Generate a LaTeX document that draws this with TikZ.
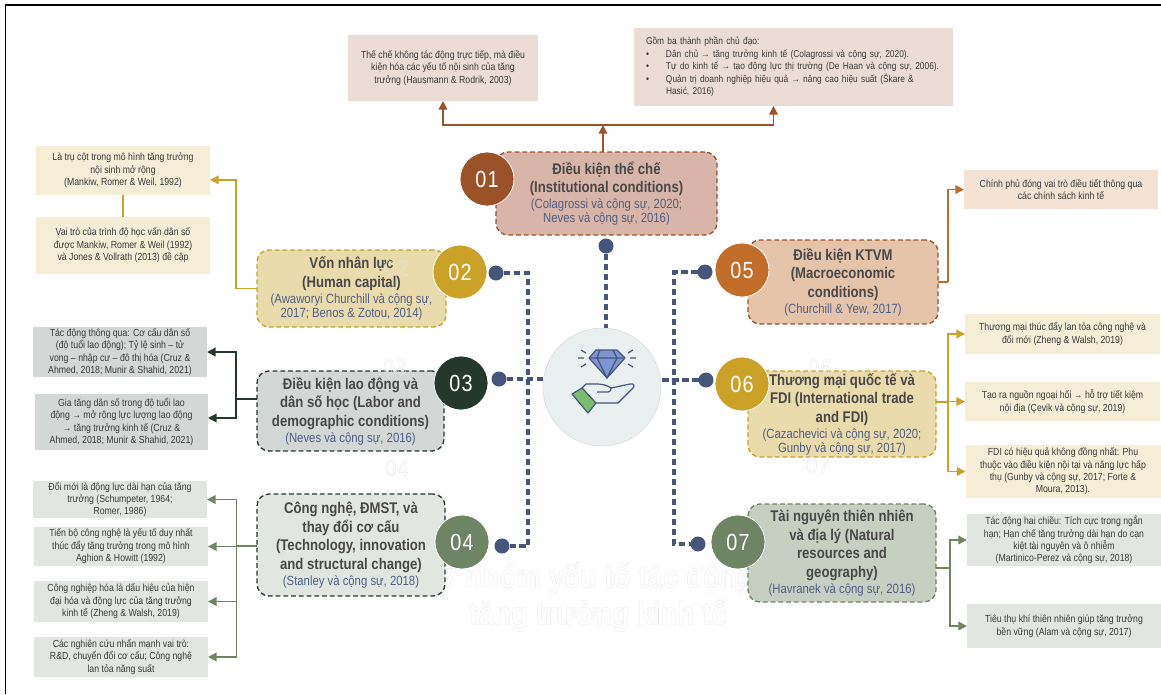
\documentclass[tikz,border=0pt]{standalone}
\usepackage{fontspec}
\usetikzlibrary{arrows.meta}
\setmainfont{Liberation Sans}[FakeStretch=0.85]
\newfontfamily\numfont{Liberation Sans}[FakeStretch=0.85,LetterSpace=5]
\definecolor{citeblue}{HTML}{4F5F86}
\definecolor{navy}{HTML}{46557C}
\definecolor{titlegray}{HTML}{484848}
\definecolor{notegray}{HTML}{3A3A3A}
\definecolor{brownA}{HTML}{9C5229}
\definecolor{brownB}{HTML}{D8B5A8}
\definecolor{brownC}{HTML}{EBDDD5}
\definecolor{goldA}{HTML}{C9A227}
\definecolor{goldB}{HTML}{E9DBAB}
\definecolor{goldC}{HTML}{F5EDD5}
\definecolor{darkA}{HTML}{26382C}
\definecolor{darkB}{HTML}{D3D7D6}
\definecolor{sageA}{HTML}{6F8463}
\definecolor{sageB}{HTML}{C6CFC2}
\definecolor{sageC}{HTML}{E2E6E0}
\definecolor{orangeA}{HTML}{C26D2A}
\definecolor{orangeB}{HTML}{E6C4A9}
\definecolor{orangeC}{HTML}{F4E3D5}
\definecolor{hubfill}{HTML}{EAEFEF}
\definecolor{gemblue}{HTML}{7B96D0}
\definecolor{cuffgreen}{HTML}{7DBB6E}
\newcommand{\citefont}{\fontsize{10}{10.5}\selectfont\mdseries\color{citeblue}}
\newcommand{\boxfont}{\fontsize{11.6}{14}\selectfont\bfseries\color{titlegray}\lineskiplimit=-10pt}
\newcommand{\notefont}{\fontsize{7.7}{9.3}\selectfont\color{notegray}\lineskiplimit=-10pt}
\newcommand{\widenotefont}{\fontsize{7.4}{9.3}\selectfont\color{notegray}\lineskiplimit=-10pt}
\newcommand{\ghosttext}[1]{\special{pdf:code 1 Tr 0.25 w 0.9 G}#1\special{pdf:code 0 Tr 0 G}}
\begin{document}
\begin{tikzpicture}[x=0.75pt,y=-0.75pt]
        \tikzstyle{every node} = [rectangle, inner sep=0pt, outer sep=0pt]
        \tikzstyle{sized} = [minimum width=#1*0.75pt]
        \tikzstyle{tall} = [minimum height=#1*0.75pt]
        \tikzstyle{cbox} = [rounded corners=9pt, dashed, dash pattern=on 3.6pt off 2.2pt, line width=1pt, align=center, font=\boxfont]
        \tikzstyle{note} = [align=center, font=\notefont]
        \tikzstyle{num} = [circle, minimum size=54*0.75pt, draw=white, line width=0.6pt, text=white, font=\numfont\fontsize{17.5}{20}\selectfont]
        \tikzstyle{dot} = [circle, fill=navy, minimum size=15*0.75pt]
        \tikzstyle{trunk} = [navy, line width=2.4pt, dash pattern=on 5pt off 2.5pt]
        \tikzstyle{link} = [line width=1.2pt, -{Triangle[length=6.5pt,width=6.5pt]}]
        \tikzstyle{stem} = [line width=1.2pt]
        \tikzstyle{ghost} = [font=\bfseries\fontsize{24.5}{28}\selectfont, align=center]
        \useasboundingbox (0,0) rectangle (1161,694);
        \draw[black, line width=1.1pt] (5.5,694) -- (5.5,5) -- (1161,5);

        % text that sits under the boxes
        \node[ghost] (ghosttitle) at (598,597) {\ghosttext{7 nhóm yếu tố tác động}\\\ghosttext{tăng trưởng kinh tế}};

        % dashed trunk
        \node[circle, fill=hubfill, draw=black!15, line width=0.4pt, minimum size=118*0.75pt] (hub) at (602,387) {};
        \node[dot] (d01) at (606,246) {};
        \node[dot] (d02) at (496,273) {};
        \node[dot] (d03) at (499,379) {};
        \node[dot] (d04) at (502,546) {};
        \node[dot] (d05) at (705,272) {};
        \node[dot] (d06) at (706,380) {};
        \node[dot] (d07) at (698,544) {};
        \coordinate (j02) at (528,273);
        \coordinate (j04) at (528,546);
        \coordinate (j05) at (674,272);
        \coordinate (j07) at (674,544);
        \draw[trunk] (d02) -- (j02) -- (j04) -- (d04);
        \draw[trunk] (d05) -- (j05) -- (j07) -- (d07);
        \draw[trunk] (d01) -- (d01 |- hub.north);
        \draw[trunk] (d03) -- (d03 -| hub.west);
        \draw[trunk] (d06) -- (d06 -| hub.east);

        % diamond and hand
        \draw[navy, line width=0.9pt, fill=gemblue, line join=round] (596,350) -- (617,350) -- (625,358) -- (607,378) -- (589,358) -- cycle;
        \draw[navy, line width=0.9pt, line join=round] (589,358) -- (625,358) (600,350) -- (597,358) -- (607,378) -- (617,358) -- (613,350);
        \draw[navy, line width=0.9pt] (581,350) -- (586,353) (578,358) -- (584,358) (581,367) -- (586,364) (633,350) -- (628,353) (636,358) -- (630,358) (633,367) -- (628,364);
        \draw[navy, line width=0.9pt, line join=round] (582,388) -- (586,384) .. controls (596,384) and (604,383) .. (611,388) -- (630,384) .. controls (634,383) and (635,386) .. (633,388) -- (618,403) -- (595,403) -- cycle;
        \draw[navy, line width=0.9pt] (597,392) -- (608,392) .. controls (611,391) .. (611,388);
        \draw[navy, line width=0.9pt, line join=round, fill=cuffgreen] (572,394) -- (582,388) -- (596,403) -- (588,413) -- cycle;

        % group boxes
        \node[cbox, sized=221, tall=83, draw=brownA, fill=brownB] (b01) at (606.5,193.5) {Điều kiện thể chế\\(Institutional conditions)\\[-2.2pt]\citefont (Colagrossi và cộng sự, 2020;\\[-3.5pt]\citefont Neves và cộng sự, 2016)};
        \node[cbox, sized=189, tall=77, draw=goldA, fill=goldB] (b02) at (351.5,288.5) {Vốn nhân lực\\(Human capital)\\[-2.2pt]\citefont (Awaworyi Churchill và cộng sự,\\[-3.5pt]\citefont 2017; Benos \& Zotou, 2014)};
        \node[cbox, sized=187, tall=80, draw=darkA, fill=darkB] (b03) at (350.5,411) {Điều kiện lao động và\\dân số học (Labor and\\demographic conditions)\\[-2.2pt]\citefont (Neves và cộng sự, 2016)};
        \node[cbox, sized=188, tall=102, draw=darkA, fill=sageC] (b04) at (351,545) {Công nghệ, ĐMST, và\\thay đổi cơ cấu\\(Technology, innovation\\and structural change)\\[-2.2pt]\citefont (Stanley và cộng sự, 2018)};
        \node[cbox, sized=190, tall=84, draw=brownA, fill=orangeB] (b05) at (843,282) {Điều kiện KTVM\\(Macroeconomic\\conditions)\\[-2.2pt]\citefont (Churchill \& Yew, 2017)};
        \node[cbox, sized=188, tall=86, draw=goldA, fill=goldB] (b06) at (842,414) {Thương mại quốc tế và\\FDI (International trade\\and FDI)\\[-2.2pt]\citefont (Cazachevici và cộng sự, 2020;\\[-3.5pt]\citefont Gunby và cộng sự, 2017)};
        \node[cbox, sized=188, tall=98, draw=sageA, fill=sageB] (b07) at (842,553) {Tài nguyên thiên nhiên\\và địa lý (Natural\\resources and\\geography)\\[-2.2pt]\citefont (Havranek và cộng sự, 2016)};

        % numbers
        \node[num, fill=brownA] (c01) at (487,179) {01};
        \node[num, fill=goldA] (c02) at (460,272) {02};
        \node[num, fill=darkA] (c03) at (461,383) {03};
        \node[num, fill=sageA] (c04) at (462,542) {04};
        \node[num, fill=orangeA] (c05) at (742,270) {05};
        \node[num, fill=goldA] (c06) at (742,384) {06};
        \node[num, fill=sageA] (c07) at (738,542) {07};

        % faint numbers
        \tikzstyle{ghostnum} = [font=\numfont\fontsize{17.5}{20}\selectfont]
        \node[ghostnum] (g02) at (397,268) {\ghosttext{02}};
        \node[ghostnum] (g03) at (395,367) {\ghosttext{03}};
        \node[ghostnum] (g04) at (397,468) {\ghosttext{04}};
        \node[ghostnum] (g06) at (820,367) {\ghosttext{06}};
        \node[ghostnum] (g07) at (818,465) {\ghosttext{07}};

        % notes
        \node[note, sized=190, tall=66, fill=brownC] (n01a) at (443,68) {Thế chế không tác động trực tiếp, mà điều\\kiện hóa các yếu tố nội sinh của tăng\\trưởng (Hausmann \& Rodrik, 2003)};
        \node[sized=319, tall=78, fill=brownC, font=\widenotefont, align=left, text width=295*0.75pt] (n01b) at (793.5,67) {Gồm ba thành phần chủ đạo:\\\makebox[15pt][l]{•}Dân chủ → tăng trưởng kinh tế (Colagrossi và cộng sự, 2020).\\\makebox[15pt][l]{•}Tự do kinh tế → tạo động lực thị trường (De Haan và cộng sự, 2006).\\\makebox[15pt][l]{•}\makebox[206pt][s]{Quản trị doanh nghiệp hiệu quả → nâng cao hiệu suất (Škare \&}\\\hspace*{15pt}Hasić, 2016)};
        \node[note, sized=174, tall=49, fill=goldC] (n02a) at (123,170.5) {Là trụ cột trong mô hình tăng trưởng\\nội sinh mở rộng\\(Mankiw, Romer \& Weil, 1992)};
        \node[note, sized=174, tall=57, fill=goldC] (n02b) at (123,245.5) {Vai trò của trình độ học vấn dân số\\được Mankiw, Romer \& Weil (1992)\\và Jones \& Vollrath (2013) đề cập};
        \node[note, sized=174, tall=50, fill=darkB] (n03a) at (120,352) {Tác động thông qua: Cơ cấu dân số\\(độ tuổi lao động); Tỷ lệ sinh – tử\\vong – nhập cư – đô thị hóa (Cruz \&\\Ahmed, 2018; Munir \& Shahid, 2021)};
        \node[note, sized=173, tall=56, fill=darkB] (n03b) at (121.5,422) {Gia tăng dân số trong độ tuổi lao\\động → mở rộng lực lượng lao động\\→ tăng trưởng kinh tế (Cruz \&\\Ahmed, 2018; Munir \& Shahid, 2021)};
        \node[note, sized=174, tall=37, fill=sageC] (n04a) at (120,499.5) {Đổi mới là động lực dài hạn của tăng\\trưởng (Schumpeter, 1964;\\Romer, 1986)};
        \node[note, sized=174, tall=39, fill=sageC] (n04b) at (121,546.5) {Tiến bộ công nghệ là yếu tố duy nhất\\thúc đẩy tăng trưởng trong mô hình\\Aghion \& Howitt (1992)};
        \node[note, sized=174, tall=41, fill=sageC] (n04c) at (121,601.5) {Công nghiệp hóa là dấu hiệu của hiện\\đại hóa và động lực của tăng trưởng\\kinh tế (Zheng \& Walsh, 2019)};
        \node[note, sized=174, tall=40, fill=sageC] (n04d) at (121,657) {Các nghiên cứu nhấn mạnh vai trò:\\R\&D, chuyển đổi cơ cấu; Công nghệ\\lan tỏa năng suất};
        \node[note, sized=194, tall=39, fill=orangeC] (n05) at (1061,189.5) {Chính phủ đóng vai trò điều tiết thông qua\\các chính sách kinh tế};
        \node[note, sized=195, tall=40, fill=goldC] (n06a) at (1062.5,334) {Thương mại thúc đẩy lan tỏa công nghệ và\\đổi mới (Zheng \& Walsh, 2019)};
        \node[note, sized=195, tall=39, fill=goldC] (n06b) at (1062.5,401.5) {Tạo ra nguồn ngoại hối → hỗ trợ tiết kiệm\\nội địa (Çevik và cộng sự, 2019)};
        \node[note, sized=195, tall=53, fill=goldC] (n06c) at (1063,471.5) {FDI có hiệu quả không đồng nhất: Phụ\\thuộc vào điều kiện nội tại và năng lực hấp\\thụ (Gunby và cộng sự, 2017; Forte \&\\Moura, 2013).};
        \node[note, sized=194, tall=52, fill=sageC] (n07a) at (1064,540) {Tác động hai chiều: Tích cực trong ngắn\\hạn; Hạn chế tăng trưởng dài hạn do cạn\\kiệt tài nguyên và ô nhiễm\\(Martinico-Perez và cộng sự, 2018)};
        \node[note, sized=194, tall=44, fill=sageC] (n07b) at (1064,626) {Tiêu thụ khí thiên nhiên giúp tăng trưởng\\bền vững (Alam và cộng sự, 2017)};

        % connectors
        \coordinate (t01) at (603,125);
        \coordinate (t02) at (236,288.5);
        \coordinate (t03) at (236,399);
        \coordinate (t04) at (236.5,546);
        \coordinate (t05) at (948,282);
        \coordinate (t06) at (948,402);
        \coordinate (t07) at (950,568);
        \draw[link, brownA] (b01.north -| t01) -- (t01);
        \draw[link, brownA] (t01) -| (n01a);
        \draw[link, brownA] (t01) -| ([xshift=-15pt]n01b.south);
        \draw[stem, goldA] (n02a.south) -- (n02b.north);
        \draw[stem, goldA] (b02.west) -- (t02);
        \draw[link, goldA] (t02) |- ([yshift=-7pt]n02a.east);
        \draw[stem, darkA] (b03.west |- t03) -- (t03);
        \draw[link, darkA] (t03) |- (n03a);
        \draw[link, darkA] (t03) |- ([yshift=3pt]n03b.east);
        \draw[stem, sageA] (b04.west |- t04) -- (t04);
        \foreach \to in {n04a, n04b, n04c, n04d}
            \draw[link, sageA] (t04) |- (\to);
        \draw[stem, orangeA] (b05.east) -- (t05);
        \draw[link, orangeA] (t05) |- (n05);
        \draw[stem, goldA] (b06.east |- t06) -- (t06);
        \foreach \to in {n06a, n06b, n06c}
            \draw[link, goldA] (t06) |- (\to);
        \draw[stem, sageA] (b07.east |- t07) -- (t07);
        \foreach \to in {n07a, n07b}
            \draw[link, sageA] (t07) |- (\to);
\end{tikzpicture}
\end{document}
